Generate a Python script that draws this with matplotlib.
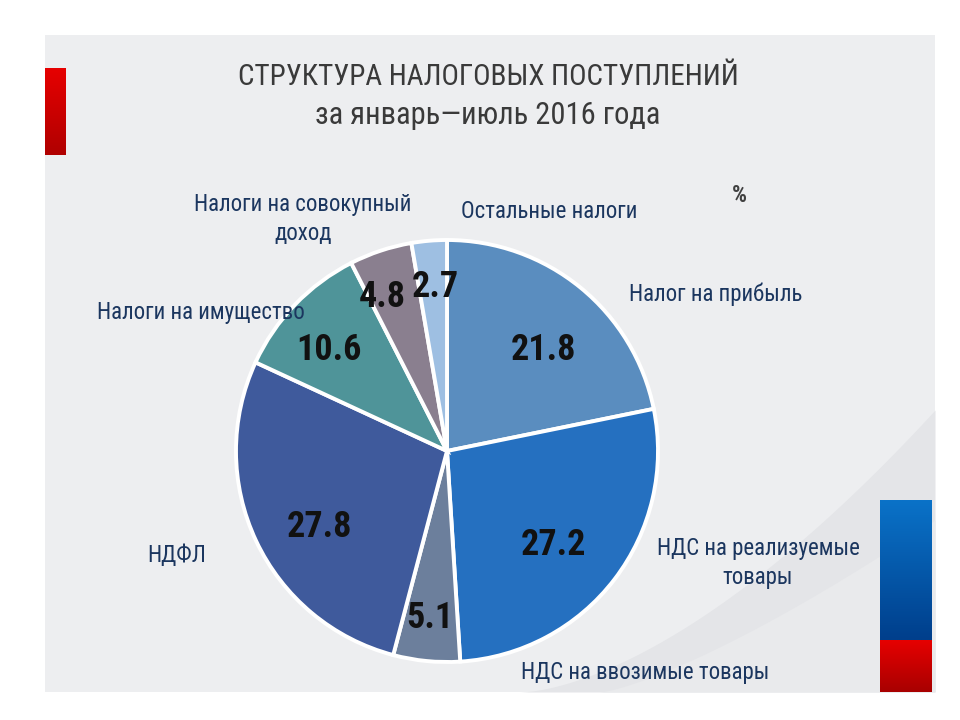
import matplotlib
matplotlib.use("Agg")
import matplotlib.pyplot as plt
import numpy as np
from matplotlib.patches import Rectangle

# --- data -----------------------------------------------------------------
categories = [
    "Налог на прибыль",
    "НДС на реализуемые\nтовары",
    "НДС на ввозимые товары",
    "НДФЛ",
    "Налоги на имущество",
    "Налоги на совокупный\nдоход",
    "Остальные налоги",
]
values = [21.8, 27.2, 5.1, 27.8, 10.6, 4.8, 2.7]
value_labels = ["21.8", "27.2", "5.1", "27.8", "10.6", "4.8", "2.7"]
colors = ["#5A8DBF", "#2570C0", "#6C7F9C", "#3F5A9C", "#4F9499", "#8A7F8F", "#9EBFE2"]

title = "СТРУКТУРА НАЛОГОВЫХ ПОСТУПЛЕНИЙ"
subtitle = "за январь—июль 2016 года"
unit = "%"

FONT = ["Roboto Condensed", "PT Sans Narrow", "Fira Sans Condensed", "DejaVu Sans"]
plt.rcParams["font.family"] = FONT

W, H = 960, 720


def Y(py):
    # convert from top-left pixel row to axes y (y up)
    return H - py


fig = plt.figure(figsize=(9.6, 7.2), dpi=100)
fig.patch.set_facecolor("white")
ax = fig.add_axes([0, 0, 1, 1])

# pie
cx, cy, r = 447, Y(451), 211
wedges, _ = ax.pie(
    values,
    colors=colors,
    startangle=90,
    counterclock=False,
    center=(cx, cy),
    radius=r,
    explode=[0.013] * len(values),
    wedgeprops=dict(edgecolor="white", linewidth=2.8),
    frame=True,
)
for w in wedges:
    w.set_zorder(2)
ax.set_xlim(0, W)
ax.set_ylim(0, H)
ax.set_aspect("equal")
ax.axis("off")

# background panel
ax.add_patch(Rectangle((45, Y(692)), 890, 657, facecolor="#EDEEF0", edgecolor="none", zorder=0))

# soft swooshes bottom right
xs = np.linspace(520, 935, 60)
top1 = Y(692) + (Y(410) - Y(692)) * ((xs - 520) / 415) ** 1.6
ax.fill_between(xs, Y(692), top1, color="#E4E5E8", lw=0, zorder=0.5)
xs2 = np.linspace(600, 935, 60)
top2 = Y(692) + (Y(520) - Y(692)) * ((xs2 - 600) / 335) ** 1.3
ax.fill_between(xs2, Y(692), top2, color="#E9EAEC", lw=0, zorder=0.6)


# gradient bars
def grad_bar(x0, x1, y_top, y_bot, c_top, c_bot):
    c_top = np.array(matplotlib.colors.to_rgb(c_top))
    c_bot = np.array(matplotlib.colors.to_rgb(c_bot))
    t = np.linspace(0, 1, 64)[:, None]
    img = (c_top * (1 - t) + c_bot * t)[:, None, :]
    ax.imshow(img, extent=(x0, x1, Y(y_bot), Y(y_top)), origin="upper",
              aspect="auto", zorder=1, interpolation="bilinear")


grad_bar(45, 66, 68, 155, "#E60000", "#B00000")
grad_bar(880, 932, 500, 640, "#0A72C8", "#003F8C")
grad_bar(880, 932, 640, 692, "#E60000", "#A80000")
ax.set_xlim(0, W)
ax.set_ylim(0, H)

# value labels inside slices
val_pos = [(543, 350), (553, 545), (430, 618), (319, 527), (329, 350), (382, 297), (435, 287)]
for (px, py), lab in zip(val_pos, value_labels):
    ax.text(px, Y(py), lab, ha="center", va="center", fontsize=26,
            fontweight="bold", color="#111111", zorder=5)

# category labels
lab_pos = [
    (716, 294),
    (758, 563),
    (645, 672),
    (177, 555),
    (201, 312),
    (303, 219),
    (549, 212),
]
for (px, py), lab in zip(lab_pos, categories):
    ax.text(px, Y(py), lab, ha="center", va="center", fontsize=16.5, color="#1B365F",
            linespacing=1.35, zorder=5)

ax.text(739, Y(195), unit, ha="center", va="center", fontsize=17,
        fontweight="bold", color="#404040", zorder=5)

# titles
ax.text(488, Y(77), title, ha="center", va="center", fontsize=21, color="#3A3A3A", zorder=5)
ax.text(488, Y(116), subtitle, ha="center", va="center", fontsize=22, color="#3A3A3A", zorder=5)

fig.savefig("out.png", dpi=100, facecolor="white")
